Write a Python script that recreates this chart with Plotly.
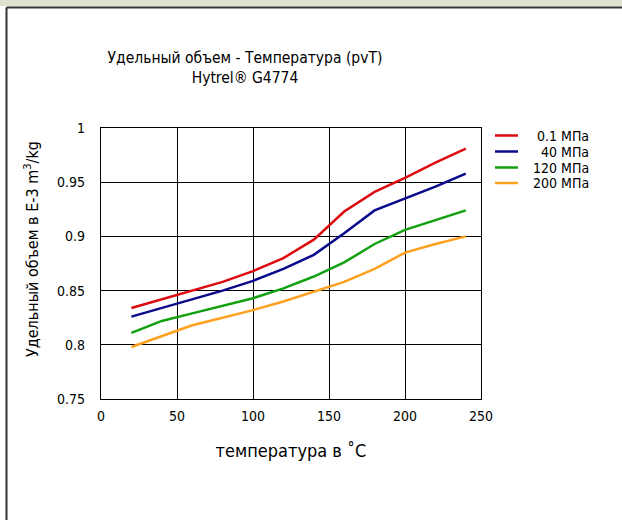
import plotly.graph_objects as go

# ---- data ----
temperature = [20, 40, 60, 80, 100, 120, 140, 160, 180, 200, 220, 240]
v_0_1 = [0.834, 0.842, 0.850, 0.858, 0.868, 0.880, 0.897, 0.923, 0.941, 0.954, 0.968, 0.981]
v_40 = [0.826, 0.834, 0.842, 0.850, 0.859, 0.870, 0.883, 0.903, 0.924, 0.935, 0.946, 0.958]
v_120 = [0.811, 0.822, 0.829, 0.836, 0.843, 0.852, 0.863, 0.876, 0.893, 0.906, 0.915, 0.924]
v_200 = [0.798, 0.808, 0.818, 0.825, 0.832, 0.840, 0.849, 0.858, 0.870, 0.885, 0.893, 0.900]
series_names = ["0.1 MПа", "40 MПа", "120 MПа", "200 MПа"]
x_ticks = [0, 50, 100, 150, 200, 250]
y_ticks = [0.75, 0.8, 0.85, 0.9, 0.95, 1]
y_tick_text = ["0.75", "0.8", "0.85", "0.9", "0.95", "1"]

# ---- layout geometry (pixels) ----
W, H = 622, 520
ML, MR, MT, MB = 101, 141, 128, 121
PW, PH = W - ML - MR, H - MT - MB


def px_x(x):
    return (x - ML) / PW


def px_y(y):
    return (H - MB - y) / PH


FONT = "DejaVu Sans Condensed, DejaVu Sans, sans-serif"
colors = ["#dc0a0f", "#0a0a8c", "#10a010", "#ffa01e"]
legend_rows = [135.5, 151.5, 167.5, 183]

fig = go.Figure()
for name, vals, c in zip(series_names, [v_0_1, v_40, v_120, v_200], colors):
    fig.add_trace(go.Scatter(x=temperature, y=vals, mode="lines", name=name,
                             line=dict(color=c, width=2.5), showlegend=False))

annotations = [dict(text="Удельный объем в E-3 m<sup>3</sup>/kg", textangle=-90,
                    xref="paper", yref="paper", x=px_x(31), y=px_y(249),
                    xanchor="center", yanchor="middle", showarrow=False,
                    font=dict(family=FONT, size=16, color="black"))]
shapes = [
    dict(type="rect", xref="paper", yref="paper", x0=px_x(0), x1=px_x(W),
         y0=px_y(0), y1=px_y(6), fillcolor="#dfe3cd", line=dict(width=0), layer="below"),
    dict(type="line", xref="paper", yref="paper", x0=px_x(6.5), x1=px_x(W),
         y0=px_y(7.5), y1=px_y(7.5), line=dict(color="#333333", width=2)),
    dict(type="line", xref="paper", yref="paper", x0=px_x(6.5), x1=px_x(6.5),
         y0=px_y(7.5), y1=px_y(H), line=dict(color="#333333", width=2)),
]
# custom legend (right-aligned labels, as in the reference)
for name, c, ry in zip(series_names, colors, legend_rows):
    shapes.append(dict(type="line", xref="paper", yref="paper", x0=px_x(495), x1=px_x(518),
                       y0=px_y(ry), y1=px_y(ry), line=dict(color=c, width=2.5)))
    annotations.append(dict(text=name, xref="paper", yref="paper", x=px_x(591), y=px_y(ry),
                            xanchor="right", yanchor="middle", showarrow=False,
                            font=dict(family=FONT, size=14, color="black")))

fig.update_layout(
    width=W, height=H,
    margin=dict(l=ML, r=MR, t=MT, b=MB),
    paper_bgcolor="white", plot_bgcolor="white",
    font=dict(family=FONT, size=14, color="black"),
    showlegend=False,
    title=dict(text="Удельный объем - Температура (pvT)<br>Hytrel® G4774",
               xref="container", yref="container",
               x=245 / W, y=1 - 63 / H, xanchor="center", yanchor="middle",
               font=dict(family=FONT, size=15.5, color="black")),
    xaxis=dict(range=[0, 250], tickvals=x_ticks, showgrid=True, gridcolor="black",
               gridwidth=1, showline=True, linecolor="black", linewidth=1.3, mirror=True,
               zeroline=False, ticks="", ticklabelstandoff=4,
               tickfont=dict(family=FONT, size=14),
               title=dict(text="температура в ˚C", font=dict(family=FONT, size=18),
                          standoff=21)),
    yaxis=dict(range=[0.75, 1], tickvals=y_ticks, ticktext=y_tick_text, showgrid=True,
               gridcolor="black", gridwidth=1, showline=True, linecolor="black",
               linewidth=1.3, mirror=True, zeroline=False, ticks="",
               ticklabelstandoff=12, tickfont=dict(family=FONT, size=14)),
    annotations=annotations,
    shapes=shapes,
)

fig.write_html("out.html")
